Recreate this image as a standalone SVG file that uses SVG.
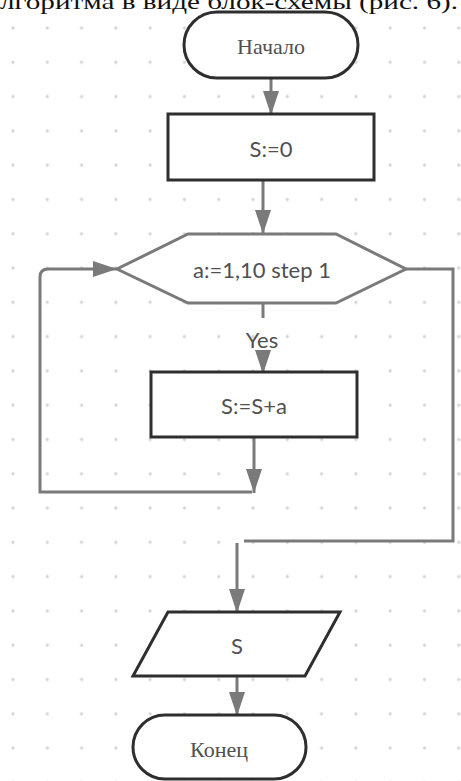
<svg xmlns="http://www.w3.org/2000/svg" width="461" height="781" viewBox="0 0 461 781">
<defs>
<pattern id="dots" x="13" y="28" width="34.29" height="34.29" patternUnits="userSpaceOnUse">
<circle cx="0" cy="0" r="1.6" fill="#d4d4d4"/>
<circle cx="34.29" cy="0" r="1.6" fill="#d4d4d4"/>
<circle cx="0" cy="34.29" r="1.6" fill="#d4d4d4"/>
<circle cx="34.29" cy="34.29" r="1.6" fill="#d4d4d4"/>
</pattern>
<marker id="arr" viewBox="0 0 24 16" refX="24" refY="8" markerWidth="24" markerHeight="16" markerUnits="userSpaceOnUse" orient="auto">
<path d="M0,0 L24,8 L0,16 Z" fill="#7a7a7a"/>
</marker>
</defs>
<style>
.box{fill:#fff;stroke:#2e2e2e;stroke-width:3}
.hex{fill:#fff;stroke:#7a7a7a;stroke-width:3}
.c{fill:none;stroke:#7a7a7a;stroke-width:3}
.t{font-family:Lato,"Open Sans",sans-serif;font-size:22px;fill:#505050;text-anchor:middle;dominant-baseline:central}
.s{font-family:"Liberation Serif","Times New Roman",serif;font-size:22px;fill:#505050;text-anchor:middle;dominant-baseline:central}
</style>
<rect width="461" height="781" fill="#fff"/>
<rect x="0" y="14" width="461" height="767" fill="url(#dots)"/>
<text x="0" y="9" font-family="Liberation Serif, serif" font-size="22" fill="#111" textLength="458" lengthAdjust="spacingAndGlyphs">лгоритма в виде блок-схемы (рис. 6).</text>
<g id="connectors">
<line class="c" x1="271" y1="78" x2="271" y2="115" marker-end="url(#arr)"/>
<line class="c" x1="263" y1="180" x2="263" y2="234" marker-end="url(#arr)"/>
<path class="c" d="M263,303 L263,318"/>
<line class="c" x1="263" y1="358" x2="263" y2="374" marker-end="url(#arr)"/>
<line class="c" x1="254" y1="437" x2="254" y2="493" marker-end="url(#arr)"/>
<path class="c" d="M252,492 L40,492 L40,277 Q40,269 48,269 L117,269" marker-end="url(#arr)"/>
<path class="c" d="M406,269 L453,269 L453,541 L244,541"/>
<line class="c" x1="237" y1="543" x2="237" y2="613" marker-end="url(#arr)"/>
<line class="c" x1="237" y1="676" x2="237" y2="716" marker-end="url(#arr)"/>
<text class="t" x="262" y="339">Yes</text>
</g>
<g id="start">
<rect class="box" x="184" y="12" width="174" height="66" rx="33"/>
<text class="s" x="271" y="46">Начало</text>
</g>
<g id="init">
<rect class="box" x="168" y="114" width="206" height="66"/>
<text class="t" x="271" y="148">S:=0</text>
</g>
<g id="loop">
<polygon class="hex" points="188,234 336,234 406,269 336,303 188,303 117,269"/>
<text class="t" x="262" y="269">a:=1,10 step 1</text>
</g>
<g id="sum">
<rect class="box" x="151" y="372" width="206" height="65"/>
<text class="t" x="254" y="405">S:=S+a</text>
</g>
<g id="output">
<polygon class="box" points="168,612 340,612 305,676 133,676"/>
<text class="t" x="237" y="645">S</text>
</g>
<g id="end">
<rect class="box" x="133" y="715" width="173" height="64" rx="32"/>
<text class="s" x="219" y="749">Конец</text>
</g>
</svg>
